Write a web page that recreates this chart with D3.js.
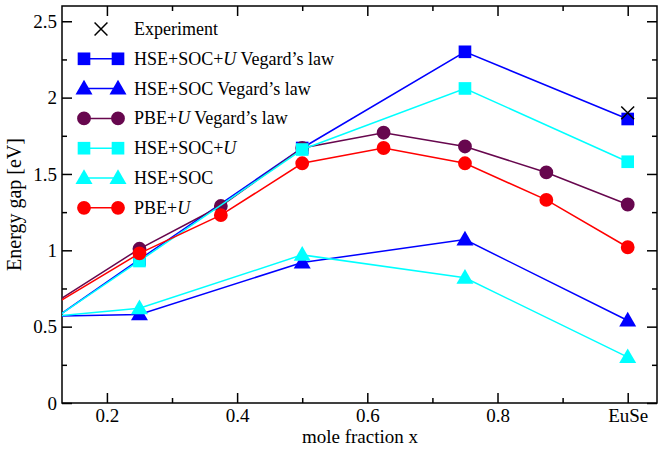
<!DOCTYPE html>
<html>
<head>
<meta charset="utf-8">
<script src="https://cdn.jsdelivr.net/npm/d3@7"></script>
<style>
  body { margin: 0; background: #fff; }
</style>
</head>
<body>
<div id="chart"></div>
<script>
// data
const xVegard = [0.125, 0.25, 0.5, 0.75, 1.0];
const xFine = [0.125, 0.25, 0.375, 0.5, 0.625, 0.75, 0.875, 1.0];

const hseSocUVegard = [0.57, 0.94, 1.67, 2.30, 1.86];
const hseSocVegard = [0.57, 0.58, 0.92, 1.07, 0.54];
const pbeUVegard = [0.67, 1.01, 1.29, 1.67, 1.77, 1.68, 1.51, 1.30];
const hseSocU = [0.57, 0.93, 1.66, 2.06, 1.58];
const hseSoc = [0.57, 0.62, 0.97, 0.82, 0.30];
const pbeU = [0.66, 0.98, 1.23, 1.57, 1.67, 1.57, 1.33, 1.02];

const experimentX = [1.0];
const experimentY = [1.90];

const xTicks = [0.2, 0.4, 0.6, 0.8, 1.0];
const xTickLabels = ['0.2', '0.4', '0.6', '0.8', 'EuSe'];
const yTicks = [0, 0.5, 1, 1.5, 2, 2.5];

const series = [
  {name: 'HSE+SOC+', it: 'U', tail: ' Vegard\u2019s law', x: xVegard, y: hseSocUVegard, color: '#0000ff', shape: 'square'},
  {name: 'HSE+SOC Vegard\u2019s law', it: '', tail: '', x: xVegard, y: hseSocVegard, color: '#0000ff', shape: 'triangle'},
  {name: 'PBE+', it: 'U', tail: ' Vegard\u2019s law', x: xFine, y: pbeUVegard, color: '#67074e', shape: 'circle'},
  {name: 'HSE+SOC+', it: 'U', tail: '', x: xVegard, y: hseSocU, color: '#00ffff', shape: 'square'},
  {name: 'HSE+SOC', it: '', tail: '', x: xVegard, y: hseSoc, color: '#00ffff', shape: 'triangle'},
  {name: 'PBE+', it: 'U', tail: '', x: xFine, y: pbeU, color: '#ff0000', shape: 'circle'}
];

const FONT = '"Liberation Serif", "Times New Roman", serif';
const W = 658, H = 449;
const m = {left: 62, right: 657, top: 6, bottom: 403};

const svg = d3.select('#chart').append('svg')
  .attr('width', W).attr('height', H)
  .attr('font-family', FONT);

const xScale = d3.scaleLinear().domain([0.131, 1.045]).range([m.left, m.right]);
const yScale = d3.scaleLinear().domain([0, 2.6]).range([m.bottom, m.top]);

svg.append('clipPath').attr('id', 'clip')
  .append('rect')
  .attr('x', m.left).attr('y', m.top)
  .attr('width', m.right - m.left).attr('height', m.bottom - m.top);

// axes, ticks inward on all four sides
const xMinor = [0.3, 0.5, 0.7, 0.9];
const yMinor = [0.25, 0.75, 1.25, 1.75, 2.25];

function styleAxis(g) {
  g.attr('font-family', FONT).attr('font-size', 19);
  g.select('.domain').remove();
  g.selectAll('line').attr('stroke', '#000').attr('stroke-width', 1.5);
  g.selectAll('text').attr('fill', '#000');
}

svg.append('g').attr('transform', `translate(0,${m.bottom})`)
  .call(d3.axisBottom(xScale).tickValues(xTicks).tickFormat((d, i) => xTickLabels[i])
    .tickSizeInner(-10).tickSizeOuter(0).tickPadding(6))
  .call(styleAxis);
svg.append('g').attr('transform', `translate(0,${m.top})`)
  .call(d3.axisTop(xScale).tickValues(xTicks).tickFormat('').tickSizeInner(-10).tickSizeOuter(0))
  .call(styleAxis);
svg.append('g').attr('transform', `translate(${m.left},0)`)
  .call(d3.axisLeft(yScale).tickValues(yTicks).tickFormat(d => String(d))
    .tickSizeInner(-10).tickSizeOuter(0).tickPadding(5))
  .call(styleAxis);
svg.append('g').attr('transform', `translate(${m.right},0)`)
  .call(d3.axisRight(yScale).tickValues(yTicks).tickFormat('').tickSizeInner(-10).tickSizeOuter(0))
  .call(styleAxis);

svg.append('g').attr('transform', `translate(0,${m.bottom})`)
  .call(d3.axisBottom(xScale).tickValues(xMinor).tickFormat('').tickSizeInner(-5).tickSizeOuter(0)).call(styleAxis);
svg.append('g').attr('transform', `translate(0,${m.top})`)
  .call(d3.axisTop(xScale).tickValues(xMinor).tickFormat('').tickSizeInner(-5).tickSizeOuter(0)).call(styleAxis);
svg.append('g').attr('transform', `translate(${m.left},0)`)
  .call(d3.axisLeft(yScale).tickValues(yMinor).tickFormat('').tickSizeInner(-5).tickSizeOuter(0)).call(styleAxis);
svg.append('g').attr('transform', `translate(${m.right},0)`)
  .call(d3.axisRight(yScale).tickValues(yMinor).tickFormat('').tickSizeInner(-5).tickSizeOuter(0)).call(styleAxis);

svg.append('rect')
  .attr('x', m.left).attr('y', m.top)
  .attr('width', m.right - m.left).attr('height', m.bottom - m.top)
  .attr('fill', 'none').attr('stroke', '#000').attr('stroke-width', 1.5);

// axis titles
svg.append('text')
  .attr('x', 360).attr('y', 443)
  .attr('text-anchor', 'middle').attr('font-size', 19)
  .text('mole fraction x');

svg.append('text')
  .attr('transform', `translate(21,${(m.top + m.bottom) / 2}) rotate(-90)`)
  .attr('text-anchor', 'middle').attr('font-size', 20)
  .text('Energy gap [eV]');

// marker shapes
const symbols = {
  square: d3.symbol().type(d3.symbolSquare).size(160),
  triangle: d3.symbol().type(d3.symbolTriangle).size(125),
  circle: d3.symbol().type(d3.symbolCircle).size(150)
};

function drawMarker(g, shape, color, x, y) {
  g.append('path')
    .attr('d', symbols[shape]())
    .attr('transform', `translate(${x},${y + (shape === 'triangle' ? 1 : 0)})`)
    .attr('fill', color);
}

const plot = svg.append('g');
const line = d3.line().x(d => xScale(d[0])).y(d => yScale(d[1]));

series.forEach(s => {
  const pts = s.x.map((v, i) => [v, s.y[i]]);
  plot.append('path')
    .attr('clip-path', 'url(#clip)')
    .attr('d', line(pts))
    .attr('fill', 'none')
    .attr('stroke', s.color)
    .attr('stroke-width', 1.5);
  const mg = plot.append('g');
  pts.filter(p => p[0] >= xScale.domain()[0]).forEach(p =>
    drawMarker(mg, s.shape, s.color, xScale(p[0]), yScale(p[1])));
});

// experiment cross
const cross = d3.symbol().type(d3.symbolTimes).size(110);
plot.selectAll('.exp')
  .data(experimentX.map((v, i) => [v, experimentY[i]]))
  .join('path')
  .attr('class', 'exp')
  .attr('d', cross())
  .attr('transform', d => `translate(${xScale(d[0])},${yScale(d[1])})`)
  .attr('fill', 'none').attr('stroke', '#000').attr('stroke-width', 1.5);

// legend
const legend = svg.append('g').attr('font-size', 18);
const rowY = i => 29 + i * 29.8;

legend.append('path')
  .attr('d', cross())
  .attr('transform', `translate(101,${rowY(0)})`)
  .attr('fill', 'none').attr('stroke', '#000').attr('stroke-width', 1.5);
legend.append('text').attr('x', 134).attr('y', rowY(0) + 6)
  .text('Experiment');

series.forEach((s, i) => {
  const y = rowY(i + 1);
  legend.append('line')
    .attr('x1', 84).attr('x2', 118).attr('y1', y).attr('y2', y)
    .attr('stroke', s.color).attr('stroke-width', 1.5);
  drawMarker(legend, s.shape, s.color, 84, y);
  drawMarker(legend, s.shape, s.color, 118, y);
  const t = legend.append('text').attr('x', 134).attr('y', y + 6);
  t.append('tspan').text(s.name);
  if (s.it) t.append('tspan').attr('font-style', 'italic').text(s.it);
  if (s.tail) t.append('tspan').text(s.tail);
});
</script>
</body>
</html>
